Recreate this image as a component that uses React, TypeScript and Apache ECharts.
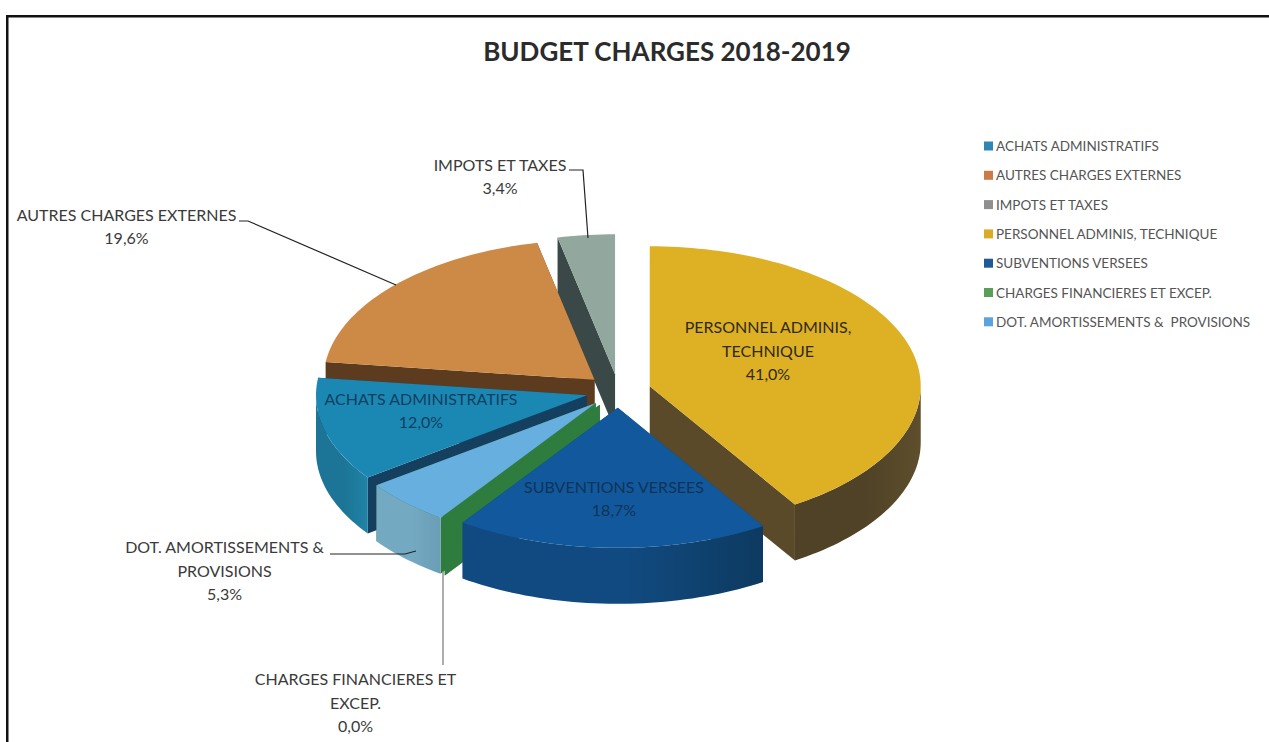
import React, { useEffect, useRef } from "react";
import * as echarts from "echarts";

// ---- data ----
const titleText = "BUDGET CHARGES 2018-2019";
const legendOrder = [
  "ACHATS ADMINISTRATIFS",
  "AUTRES CHARGES EXTERNES",
  "IMPOTS ET TAXES",
  "PERSONNEL ADMINIS, TECHNIQUE",
  "SUBVENTIONS VERSEES",
  "CHARGES FINANCIERES ET EXCEP.",
  "DOT. AMORTISSEMENTS &  PROVISIONS",
];
// clockwise from 12 o'clock
const categories = [
  "PERSONNEL ADMINIS, TECHNIQUE",
  "SUBVENTIONS VERSEES",
  "CHARGES FINANCIERES ET EXCEP.",
  "DOT. AMORTISSEMENTS &  PROVISIONS",
  "ACHATS ADMINISTRATIFS",
  "AUTRES CHARGES EXTERNES",
  "IMPOTS ET TAXES",
];
const values = [41.0, 18.7, 0.0, 5.3, 12.0, 19.6, 3.4];

// ---- styles and layout ----
const FONT = "Lato, 'Open Sans', sans-serif";
const CX = 618.5, CY = 391, RX = 271, RY = 140, DEPTH = 56, EXPLODE = 0.12;
const paintOrder = [6, 5, 0, 4, 3, 2, 1];

const legendColors = ["#d9ab26", "#1f5a96", "#5a9e5a", "#5ba3dc", "#2f86b3", "#c97b4a", "#8f8f8f"];
const topColors = ["#deb024", "#12589c", "#2e7d3e", "#66afdf", "#1b88b4", "#cc8a46", "#92a89f"];
const radialColors = ["#5a4a2a", "#12487e", "#2e7d3e", "#2e7d3e", "#153f5e", "#5d3b1f", "#3a4847"];
const rimColors: [string, string][] = [
  ["#4f4226", "#5e4e2c"],
  ["#114a80", "#0d3a60"],
  ["#2e7d3e", "#2e7d3e"],
  ["#74a9c2", "#6a9db6"],
  ["#1c7596", "#2083a6"],
  ["#5d3b1f", "#5d3b1f"],
  ["#3a4847", "#3a4847"],
];
const labelLines = [
  ["PERSONNEL ADMINIS,", "TECHNIQUE"],
  ["SUBVENTIONS VERSEES"],
  ["CHARGES FINANCIERES ET", "EXCEP."],
  ["DOT. AMORTISSEMENTS &", "PROVISIONS"],
  ["ACHATS ADMINISTRATIFS"],
  ["AUTRES CHARGES EXTERNES"],
  ["IMPOTS ET TAXES"],
];
const labelAnchors: [number, number][] = [
  [768, 350],
  [614, 498],
  [355.5, 702],
  [224.5, 570],
  [421, 410],
  [126.5, 226],
  [500, 176],
];
const labelColors = ["#2e2a1c", "#103358", "#3a3a3a", "#3a3a3a", "#123f60", "#3a3a3a", "#3a3a3a"];
const leaders: ([number, number][] | null)[] = [
  null,
  null,
  [[443, 571], [443, 665]],
  [[330, 554], [405, 554], [416, 551]],
  null,
  [[239, 221], [248, 221], [396, 285]],
  [[569, 170], [583, 170], [588, 238]],
];

const total = values.reduce((a, b) => a + b, 0);
const starts: number[] = [];
values.reduce((acc, v, i) => {
  starts[i] = (acc / total) * 360;
  return acc + v;
}, 0);

function rim(a: number[], deg: number, dy = 0): [number, number] {
  const t = (deg * Math.PI) / 180;
  return [a[0] + RX * Math.sin(t), a[1] - RY * Math.cos(t) + dy];
}

function arcPoints(a: number[], from: number, to: number, dy = 0) {
  const n = Math.max(1, Math.ceil(Math.abs(to - from) / 1.5));
  const pts: [number, number][] = [];
  for (let k = 0; k <= n; k++) pts.push(rim(a, from + ((to - from) * k) / n, dy));
  return pts;
}

function makeRenderItem(i: number) {
  return (_params: any, api: any) => {
    const v = api.value(0);
    const from = starts[i];
    const to = from + (v / total) * 360;
    const mid = (from + to) / 2;
    const t = (mid * Math.PI) / 180;
    const a = [CX + EXPLODE * RX * Math.sin(t), CY - EXPLODE * RY * Math.cos(t)];
    const children: any[] = [];
    const radial = (deg: number) => {
      const p = rim(a, deg);
      return {
        type: "polygon",
        shape: { points: [a, p, [p[0], p[1] + DEPTH], [a[0], a[1] + DEPTH]] },
        style: { fill: radialColors[i] },
      };
    };
    children.push(radial(from), radial(to));
    const rimFrom = Math.max(from, 90);
    const rimTo = Math.min(to, 270);
    if (rimTo > rimFrom) {
      const upper = arcPoints(a, rimFrom, rimTo);
      const lower = arcPoints(a, rimTo, rimFrom, DEPTH);
      children.push({
        type: "polygon",
        shape: { points: [...upper, ...lower] },
        style: {
          fill: new echarts.graphic.LinearGradient(0, 0, 1, 0, [
            { offset: 0, color: rimColors[i][0] },
            { offset: 0.55, color: rimColors[i][0] },
            { offset: 1, color: rimColors[i][1] },
          ]),
        },
      });
    }
    if (to > from) {
      children.push({
        type: "polygon",
        shape: { points: [a, ...arcPoints(a, from, to)] },
        style: { fill: topColors[i] },
      });
    }
    const line = leaders[i];
    if (line) {
      children.push({
        type: "polyline",
        shape: { points: line },
        style: { stroke: i === 2 ? "#777777" : "#222222", lineWidth: 1.2, fill: "none" },
      });
    }
    const texts = [...labelLines[i], v.toFixed(1).replace(".", ",") + "%"];
    const [lx, ly] = labelAnchors[i];
    texts.forEach((s, k) => {
      children.push({
        type: "text",
        style: {
          text: s,
          x: lx,
          y: ly + (k - (texts.length - 1) / 2) * 23.5,
          align: "center",
          verticalAlign: "middle",
          fontFamily: FONT,
          fontSize: 16,
          fill: labelColors[i],
        },
      });
    });
    return { type: "group", children };
  };
}

export default function App() {
  const ref = useRef<HTMLDivElement>(null);
  useEffect(() => {
    document.body.style.margin = "0";
    const chart = echarts.init(ref.current!, undefined, { renderer: "svg" });
    chart.setOption({
      animation: false,
      backgroundColor: "#ffffff",
      title: {
        text: titleText,
        left: 662,
        top: 33,
        textAlign: "center",
        textStyle: { fontFamily: FONT, fontSize: 26, fontWeight: "bold", color: "#2b2b2b" },
      },
      legend: {
        orient: "vertical",
        left: 979,
        top: 133,
        padding: 5,
        data: legendOrder,
        icon: "rect",
        itemWidth: 9,
        itemHeight: 9,
        itemGap: 13.3,
        selectedMode: false,
        textStyle: { fontFamily: FONT, fontSize: 13.5, color: "#555555", padding: [0, 0, 0, -2], height: 16, lineHeight: 16 },
      },
      graphic: [
        { type: "rect", shape: { x: 6, y: 15, width: 1263, height: 2.5 }, style: { fill: "#111111" }, silent: true },
        { type: "rect", shape: { x: 6, y: 15, width: 2.5, height: 727 }, style: { fill: "#111111" }, silent: true },
      ],
      series: paintOrder.map((i, order) => ({
        type: "custom",
        name: categories[i],
        coordinateSystem: "none",
        z: 2 + order,
        itemStyle: { color: legendColors[i] },
        renderItem: makeRenderItem(i),
        data: [{ name: categories[i], value: [values[i]] }],
      })),
    });
    return () => chart.dispose();
  }, []);
  return <div ref={ref} style={{ position: "absolute", left: 0, top: 0, width: 1269, height: 742 }} />;
}
